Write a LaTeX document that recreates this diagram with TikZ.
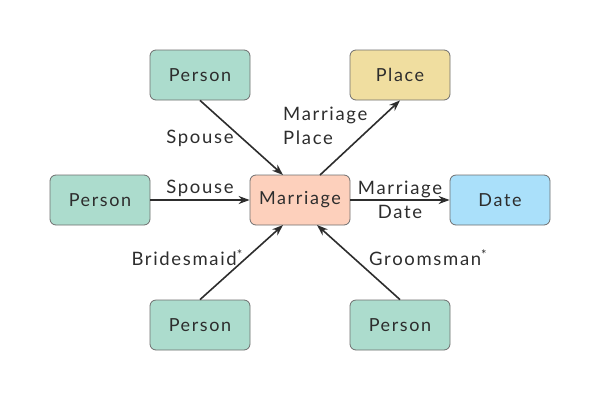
\documentclass[tikz,border=0pt]{standalone}
\usepackage{fontspec}
\setmainfont{Lato}[LetterSpace=9]
\usetikzlibrary{arrows.meta}
\definecolor{personc}{RGB}{172,220,205}
\definecolor{placec}{RGB}{240,222,160}
\definecolor{marrc}{RGB}{253,208,188}
\definecolor{datec}{RGB}{170,224,250}
\definecolor{edgec}{RGB}{110,110,110}
\definecolor{txt}{RGB}{45,45,45}
\tikzset{
  box/.style={draw=edgec, line width=0.8pt, rounded corners=6pt, minimum width=100pt, minimum height=50pt, inner sep=0pt, text=txt, font=\fontsize{18}{20}\selectfont},
  conn/.style={draw=txt, line width=1.6pt, -{Stealth[length=11pt,width=8pt]}},
  lbl/.style={text=txt, font=\fontsize{18.5}{24}\selectfont, inner sep=0pt}
}
\begin{document}
\begin{tikzpicture}[x=1pt,y=-1pt]
\useasboundingbox (0,0) rectangle (600,400);
\node[box, fill=personc] (p1) at (200,75) {Person};
\node[box, fill=placec] (pl) at (400,75) {Place};
\node[box, fill=personc] (p2) at (100,200) {Person};
\node[box, fill=marrc] (m) at (300,200) {Marriage};
\node[box, fill=datec] (d) at (500,200) {Date};
\node[box, fill=personc] (p3) at (200,325) {Person};
\node[box, fill=personc] (p4) at (400,325) {Person};
\coordinate (m1) at (283,175);
\coordinate (m2) at (320,175);
\coordinate (m3) at (283,225);
\coordinate (m4) at (317,225);
\draw[conn] (p1.south) -- (m1);
\draw[conn] (m2) -- (pl.south);
\draw[conn] (p2.east) -- (m.west);
\draw[conn] (m.east) -- (d.west);
\draw[conn] (p3.north) -- (m3);
\draw[conn] (p4.north) -- (m4);
\node[lbl] (l1) at (200,138) {Spouse};
\node[lbl, anchor=west, align=left] (l2) at (283,126) {Marriage\\Place};
\node[lbl] (l3) at (200,188) {Spouse};
\node[lbl, align=center] (l4) at (400,200) {Marriage\\Date};
\node[lbl, anchor=east] (l5) at (243,258) {Bridesmaid\textsuperscript{*}};
\node[lbl, anchor=west] (l6) at (369,258) {Groomsman\textsuperscript{*}};
\end{tikzpicture}
\end{document}
